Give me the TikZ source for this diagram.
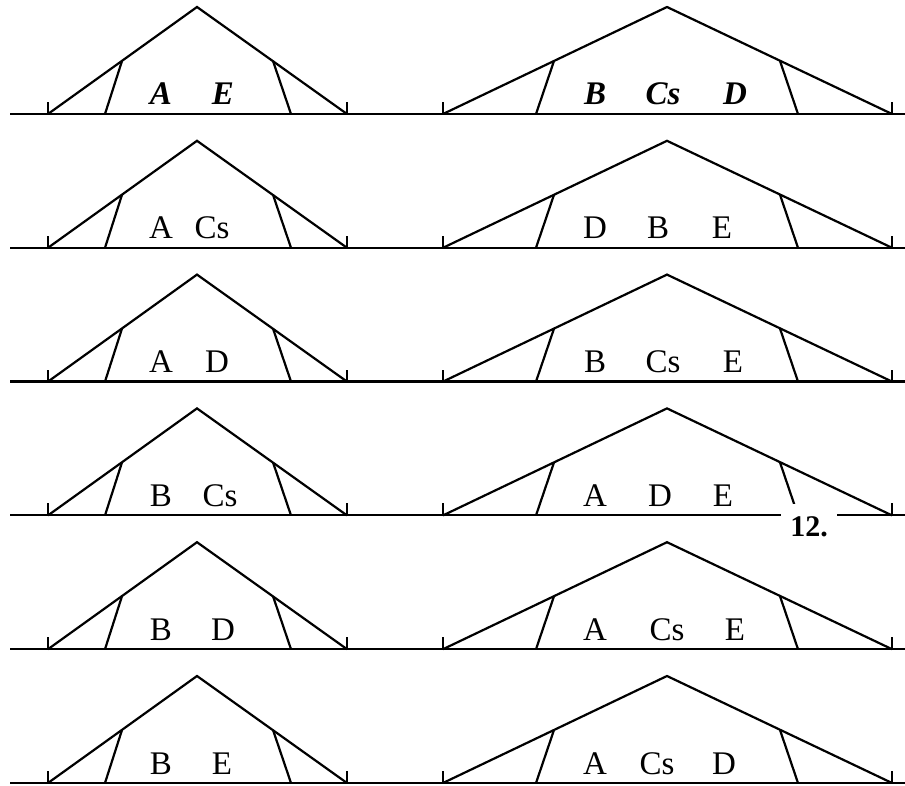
\documentclass[tikz,border=0pt]{standalone}
\usepackage{fontspec}
\setmainfont{Liberation Serif}
\usetikzlibrary{positioning}
\newcommand{\bfit}{\bfseries\itshape}

\begin{document}
\begin{tikzpicture}[
    x=1pt, y=1pt,
    roof/.style={line width=2.2pt, line join=miter},
    ground/.style={line width=2.2pt},
    tick/.style={line width=1.6pt},
    lab/.style={anchor=base, inner sep=0pt, font=\fontsize{33}{38}\selectfont},
    num/.style={anchor=base, fill=white, inner xsep=9pt, inner ysep=13pt, font=\fontsize{30}{34}\selectfont\bfseries}
]
    \useasboundingbox (0,0) rectangle (905,785);
    % row / labels / x of the shifting labels
    \foreach \r/\la/\lb/\ra/\rb/\rc/\xb/\xd/\xe in {
        0/\bfit A/\bfit E/\bfit B/\bfit Cs/\bfit D/223/663/735,
        1/A/Cs/D/B/E/212/658/722,
        2/A/D/B/Cs/E/217/663/733,
        3/B/Cs/A/D/E/220/660/723,
        4/B/D/A/Cs/E/223/667/735,
        5/B/E/A/Cs/D/222/657/724} {
    \begin{scope}[shift={(0,{671-133.8*\r})}]
        \coordinate (g\r-w) at (10,0);
        \coordinate (g\r-e) at (905,0);
        % small roof
        \coordinate (l\r-a) at (48,0);
        \coordinate (l\r-t) at (197,107);
        \coordinate (l\r-b) at (347,0);
        \coordinate (l\r-p) at (122,53);
        \coordinate (l\r-q) at (105,0);
        \coordinate (l\r-s) at (273,53);
        \coordinate (l\r-u) at (291,0);
        % wide roof
        \coordinate (r\r-a) at (443,0);
        \coordinate (r\r-t) at (667,107);
        \coordinate (r\r-b) at (892,0);
        \coordinate (r\r-p) at (554,53);
        \coordinate (r\r-q) at (536,0);
        \coordinate (r\r-s) at (780,53);
        \coordinate (r\r-u) at (798,0);

        \draw[ground] (g\r-w) -- (g\r-e);
        \draw[roof] (l\r-a) -- (l\r-t) -- (l\r-b);
        \draw[roof] (l\r-p) -- (l\r-q);
        \draw[roof] (l\r-s) -- (l\r-u);
        \draw[tick] (l\r-a) -- ++(0,12);
        \draw[tick] (l\r-b) -- ++(0,12);
        \draw[roof] (r\r-a) -- (r\r-t) -- (r\r-b);
        \draw[roof] (r\r-p) -- (r\r-q);
        \draw[roof] (r\r-s) -- (r\r-u);
        \draw[tick] (r\r-a) -- ++(0,12);
        \draw[tick] (r\r-b) -- ++(0,12);

        \node[lab] (l\r-x) at (161,9) {\la};
        \node[lab] (l\r-y) at (\xb,9) {\lb};
        \node[lab] (r\r-x) at (595,9) {\ra};
        \node[lab] (r\r-y) at (\xd,9) {\rb};
        \node[lab] (r\r-z) at (\xe,9) {\rc};
    \end{scope}
    }
    \node[num] (fignum) at (809,248) {12.};
\end{tikzpicture}
\end{document}
